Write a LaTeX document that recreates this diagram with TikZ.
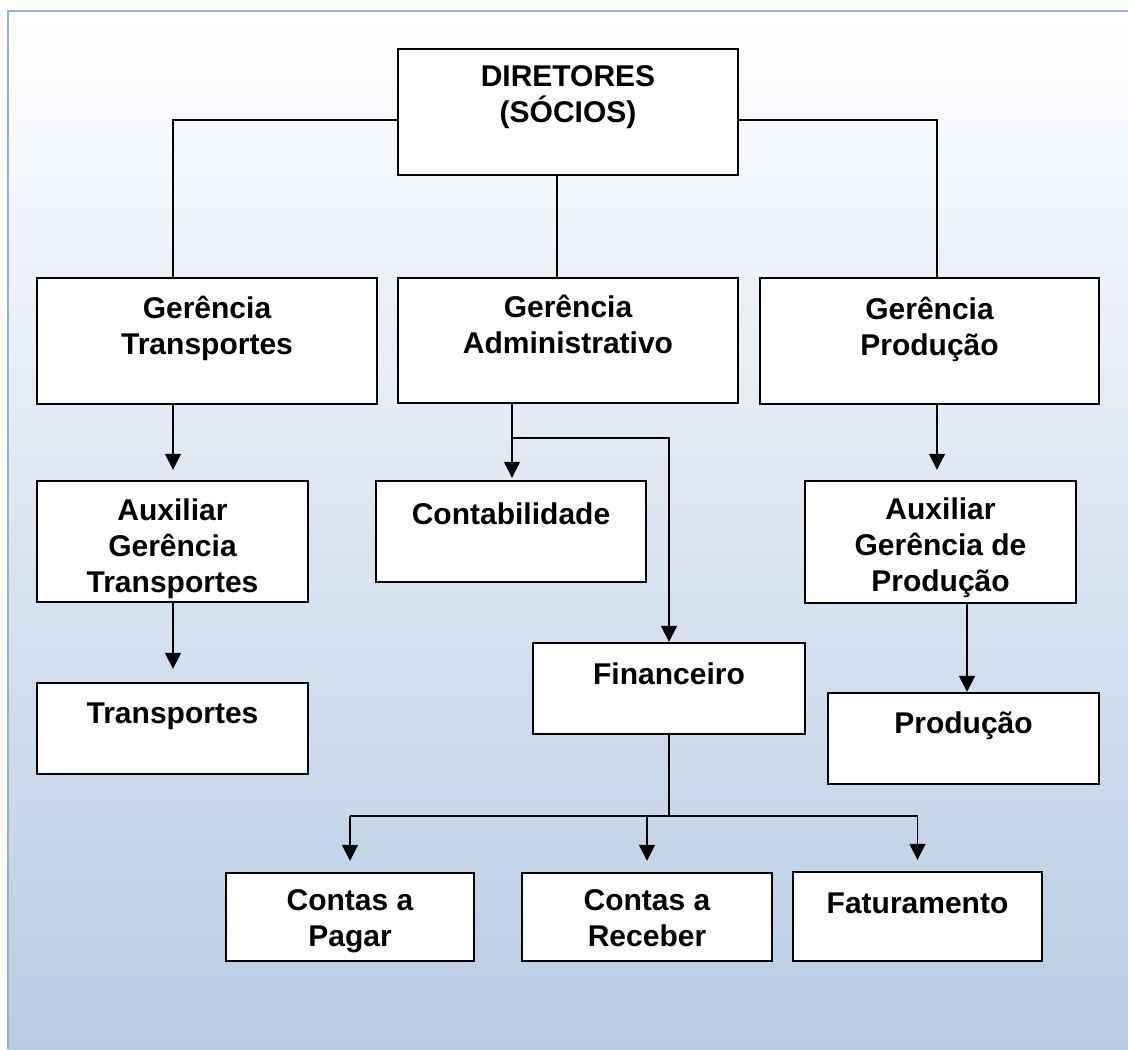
\documentclass[tikz,border=0pt]{standalone}
\usepackage{fontspec}
\setmainfont{Liberation Sans}
\usetikzlibrary{arrows.meta}
\definecolor{bgBlue}{RGB}{184,204,228}
\definecolor{edgeBlue}{RGB}{149,179,215}
\newcommand{\topStrut}{\rule{0pt}{14.5pt}}
\newcommand{\orgBox}[7]{%%
  %% Draw the box #1 with corners (#2,#3) and (#4,#5).
  \node[boxStyle, minimum width={(#4-#2)*0.5pt}, minimum height={(#5-#3)*0.5pt}]
  (#1) at ({(#2+#4)/2},{(#3+#5)/2}) {};
  %% Label the box near its top.
  \node[textStyle] (#1Text) at ([yshift={-(#6-7.2)*0.5pt}]#1.north)
  {\topStrut #7};
}

\begin{document}
\begin{tikzpicture}[%%
  x=0.5pt,y=-0.5pt,
  lineStyle/.style={-,line width=0.85pt,black},%%
  arrowStyle/.style={lineStyle,-{Triangle[width=8pt,length=8pt]}},%%
  boxStyle/.style={draw,line width=1.2pt,fill=white,inner sep=0pt,rectangle},%%
  textStyle/.style={anchor=north,inner sep=0pt,align=center,
    font=\bfseries\fontsize{15}{18}\selectfont},%%
  borderStyle/.style={line width=1pt,edgeBlue}
]
%%
%% The page and its shaded background.
\useasboundingbox (0,0) rectangle (1128,1049);
\shade[top color=white,bottom color=bgBlue] (8,11) rectangle (1128,1049);
\draw[borderStyle] (8,1049) -- (8,11) -- (1128,11);
%%
%% The boxes.
\orgBox{dir}{398}{49}{738}{175}{16}{DIRETORES\\(SÓCIOS)}
\orgBox{gt}{37}{278}{377}{404}{19}{Gerência\\Transportes}
\orgBox{ga}{398}{278}{738}{403}{18}{Gerência\\Administrativo}
\orgBox{gp}{760}{278}{1099}{404}{20}{Gerência\\Produção}
\orgBox{agt}{37}{481}{308}{602}{18}{Auxiliar\\Gerência\\Transportes}
\orgBox{cont}{376}{481}{646}{582}{22}{Contabilidade}
\orgBox{agp}{805}{481}{1076}{603}{17}{Auxiliar\\Gerência de\\Produção}
\orgBox{tr}{37}{683}{308}{774}{19}{Transportes}
\orgBox{fin}{533}{643}{805}{734}{20}{Financeiro}
\orgBox{prod}{828}{693}{1099}{784}{19}{Produção}
\orgBox{cp}{226}{873}{474}{961}{16}{Contas a\\Pagar}
\orgBox{cr}{522}{873}{772}{961}{16}{Contas a\\Receber}
\orgBox{fat}{793}{872}{1042}{961}{20}{Faturamento}
%%
%% Lines from the directors.
\draw[lineStyle] (dir.west |- 0,120) -| (gt.north -| 173,0);
\draw[lineStyle] (dir.east |- 0,120) -| (gp.north -| 937,0);
\draw[lineStyle] (dir.south -| 557,0) -- (ga.north -| 557,0);
%%
%% Transport branch.
\draw[arrowStyle,shorten >=5pt] (gt.south -| 173,0) -- (agt.north -| 173,0);
\draw[arrowStyle,shorten >=6.5pt] (agt.south -| 173,0) -- (tr.north -| 173,0);
%%
%% Administration branch.
\coordinate (admJoin) at (512,438);
\draw[lineStyle] (ga.south -| admJoin) -- (admJoin);
\draw[arrowStyle,shorten >=1pt] (admJoin) -- (cont.north -| admJoin);
\draw[arrowStyle] (admJoin) -| (fin.north);
%%
%% Production branch.
\draw[arrowStyle,shorten >=5pt] (gp.south -| 937,0) -- (agp.north -| 937,0);
\draw[arrowStyle] (agp.south -| 967,0) -- (prod.north -| 967,0);
%%
%% Finance branch.
\coordinate (finJoin) at (669,816);
\draw[lineStyle] (fin.south) -- (finJoin);
\draw[lineStyle] (cp.north |- finJoin) -- (fat.north |- finJoin);
\foreach \n in {cp,cr,fat}
  \draw[arrowStyle,shorten >=5.5pt] (\n.north |- finJoin) -- (\n.north);
\end{tikzpicture}
\end{document}
